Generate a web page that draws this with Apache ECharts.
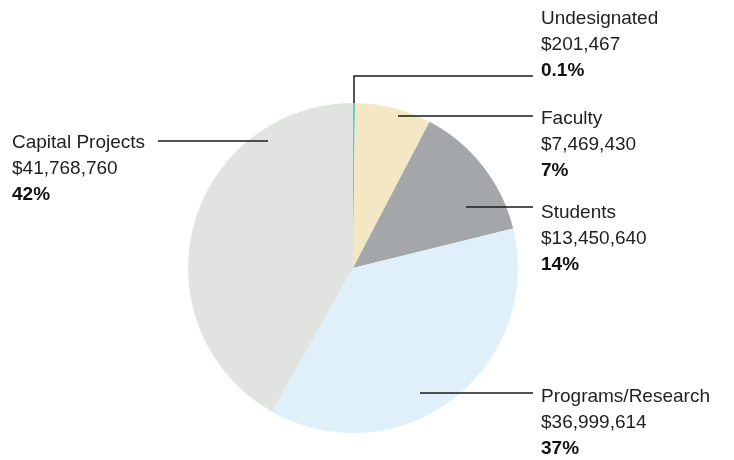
<!DOCTYPE html>
<html>
<head>
<meta charset="utf-8">
<script src="https://cdn.jsdelivr.net/npm/echarts@6/dist/echarts.min.js"></script>
<style>
  html, body { margin: 0; padding: 0; background: #fff; }
  #chart { width: 734px; height: 460px; }
</style>
</head>
<body>
<div id="chart"></div>
<script>
var categories = ['Undesignated', 'Faculty', 'Students', 'Programs/Research', 'Capital Projects'];
var amounts = [201467, 7469430, 13450640, 36999614, 41768760];
var amountLabels = ['$201,467', '$7,469,430', '$13,450,640', '$36,999,614', '$41,768,760'];
var percentLabels = ['0.1%', '7%', '14%', '37%', '42%'];

var colors = ['#5fcfc4', '#f3e8c3', '#a4a7a9', '#dff0fa', '#e0e3df'];

// label placement: text block top-left, and leader line path
var labelPos = [
    { x: 541, y: 6, line: [[354, 103], [354, 76], [533, 76]] },
    { x: 541, y: 106, line: [[398, 116], [533, 116]] },
    { x: 541, y: 200, line: [[466, 207], [533, 207]] },
    { x: 541, y: 384, line: [[420, 393], [533, 393]] },
    { x: 12, y: 130, line: [[268, 141], [158, 141]] }
];

var seriesData = categories.map(function (c, i) {
    return {
        name: c,
        value: amounts[i],
        itemStyle: { color: colors[i] },
        label: {
            formatter: '{n|' + c + '}\n{v|' + amountLabels[i] + '}\n{p|' + percentLabels[i] + '}'
        }
    };
});

// leader lines drawn on top of the slices
var leaders = labelPos.map(function (p) {
    return {
        type: 'polyline',
        z: 100,
        silent: true,
        shape: { points: p.line },
        style: { stroke: '#1a1a1a', lineWidth: 1.5, fill: null }
    };
});

var myChart = echarts.init(document.getElementById('chart'));

var option = {
    animation: false,
    graphic: leaders,
    series: [
        {
            type: 'pie',
            center: [353, 268],
            radius: 165,
            startAngle: 90,
            clockwise: true,
            data: seriesData,
            itemStyle: { borderWidth: 0 },
            emphasis: { disabled: true },
            label: {
                show: true,
                position: 'outside',
                color: '#222',
                fontFamily: 'Liberation Sans, Arial, sans-serif',
                fontSize: 19,
                lineHeight: 26,
                rich: {
                    n: { fontSize: 19, lineHeight: 26, color: '#222' },
                    v: { fontSize: 19, lineHeight: 26, color: '#222' },
                    p: { fontSize: 19, lineHeight: 26, color: '#111', fontWeight: 'bold' }
                }
            },
            labelLine: { show: false },
            labelLayout: function (params) {
                var p = labelPos[params.dataIndex];
                return {
                    x: p.x,
                    y: p.y,
                    align: 'left',
                    verticalAlign: 'top'
                };
            }
        }
    ]
};

myChart.setOption(option);
</script>
</body>
</html>
